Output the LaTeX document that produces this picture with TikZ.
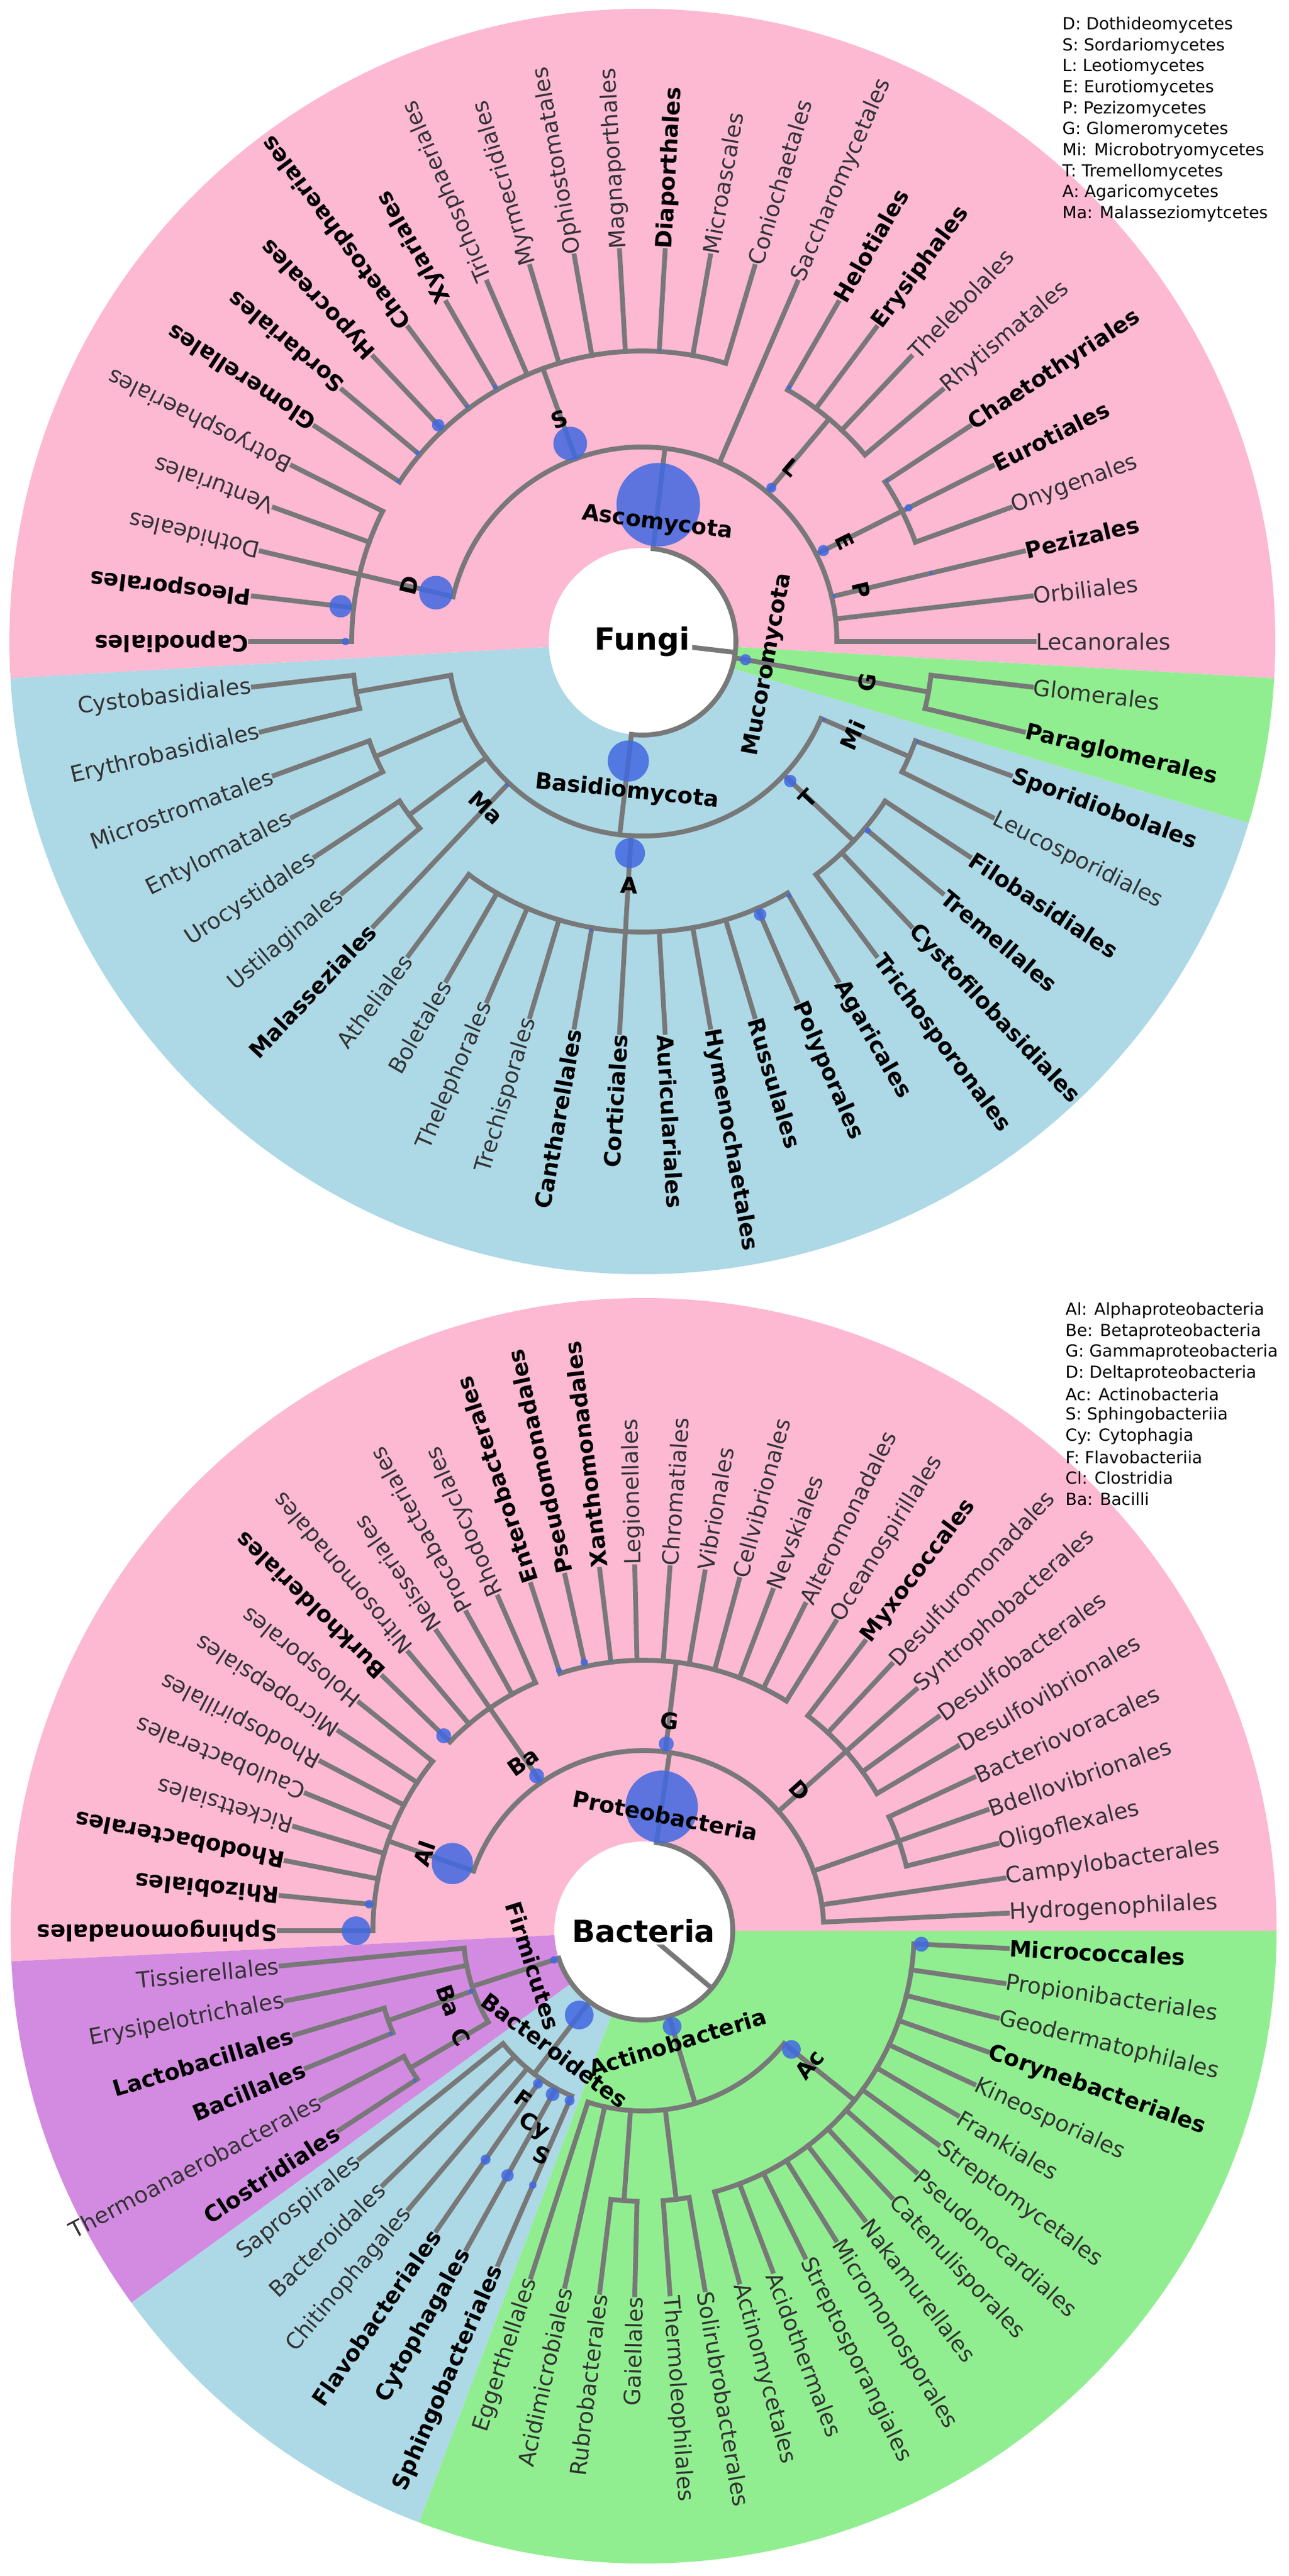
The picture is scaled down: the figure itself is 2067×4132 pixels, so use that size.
\documentclass[tikz,border=0pt]{standalone}
\usepackage{fontspec}
\setmainfont{DejaVu Sans}

\definecolor{bgpink}{HTML}{FDB8D2}
\definecolor{bgblue}{HTML}{ADD8E6}
\definecolor{bggreen}{HTML}{90EE90}
\definecolor{bgpurple}{HTML}{D38BE1}
\definecolor{branchgray}{HTML}{787878}
\definecolor{nodeblue}{HTML}{4169E1}
\definecolor{labelgray}{HTML}{333333}

\newcommand{\leaffont}{\fontsize{10.2}{12}\selectfont}
\newcommand{\rootfont}{\fontsize{13.9}{16}\selectfont}
\newcommand{\legendfont}{\fontsize{7.6}{9}\selectfont}

\tikzset{
  branch/.style={draw=branchgray, line width=2.2pt, line cap=rect},
  leaf/.style={inner sep=1pt, outer sep=0pt},
  cladelbl/.style={font=\leaffont\bfseries, inner sep=0pt},
  nodedot/.style={fill=nodeblue, fill opacity=0.85},
  legendtxt/.style={font=\legendfont, anchor=west, inner sep=0pt},
  rootlbl/.style={font=\rootfont\bfseries, fill=white, inner sep=1pt}
}

\newcommand{\clade}[5]{%
  \draw[branch] (#1:#2) -- (#1:#3);
  \draw[branch] (#4:#3) arc[start angle=#4, end angle=#5, radius=#3];}

\newcommand{\dotat}[3]{\fill[nodedot] (#1:#2) circle[radius=#3];}

\newcommand{\cladename}[4]{%
  \pgfmathsetmacro{\ra}{mod(#1+720,360)}%
  \pgfmathsetmacro{\rr}{(\ra<180) ? (\ra-90) : (\ra+90)}%
  \node[cladelbl, rotate=\rr] (#3) at (#1:#2) {#4};}

\newcommand{\leaflabel}[5]{%
  \pgfmathtruncatemacro{\flip}{and(#1>180,#1<270)}%
  \ifnum#5=1 \def\lw{\bfseries}\def\lc{black}\else\def\lw{\mdseries}\def\lc{labelgray}\fi
  \ifnum\flip=1
    \pgfmathsetmacro{\rt}{#1-180}%
    \node[leaf, font=\leaffont\lw, text=\lc, anchor=east, rotate=\rt] (#3) at (#1:#2) {#4};%
  \else
    \node[leaf, font=\leaffont\lw, text=\lc, anchor=west, rotate=#1] (#3) at (#1:#2) {#4};%
  \fi}

\begin{document}
\begin{tikzpicture}[x=0.01cm, y=0.01cm]
\useasboundingbox (0,0) rectangle (2067,-4132);

\begin{scope}[shift={(1030,-1029)}]
  \fill[bgpink] (0,0) -- (-3.333:1015) arc[start angle=-3.333, end angle=183.333, radius=1015] -- cycle;
  \fill[bggreen] (0,0) -- (-16.667:1015) arc[start angle=-16.667, end angle=-3.333, radius=1015] -- cycle;
  \fill[bgblue] (0,0) -- (183.333:1015) arc[start angle=183.333, end angle=343.333, radius=1015] -- cycle;
  \fill[white] (0,0) circle[radius=150];

  \draw[branch] (83.333:150) arc[start angle=83.333, end angle=-96.667, radius=150];
  \draw[branch] (0,0) -- (-6.667:150);
  \clade{83.333}{150}{312}{166.667}{0}
  \clade{-96.667}{150}{312}{-23.333}{-170}
  \clade{-10}{150}{466}{-6.667}{-13.333}
  \clade{166.667}{312}{466}{180}{153.333}
  \clade{110}{312}{466}{146.667}{73.333}
  \clade{50}{312}{466}{60}{40}
  \clade{26.667}{312}{466}{33.333}{20}
  \clade{-23.333}{312}{466}{-20}{-26.667}
  \clade{-43.333}{312}{466}{-33.333}{-53.333}
  \clade{-93.333}{312}{466}{-60}{-126.667}
  \clade{216.667}{312}{466}{213.333}{220}
  \clade{203.333}{312}{466}{200}{206.667}
  \clade{190}{312}{466}{186.667}{193.333}

  \foreach \k/\nm/\bw/\rp in {1/Capnodiales/1/466, 2/Pleosporales/1/466, 3/Dothideales/0/466,
      4/Venturiales/0/466, 5/Botryosphaeriales/0/466, 6/Glomerellales/1/466, 7/Sordariales/1/466,
      8/Hypocreales/1/466, 9/Chaetosphaeriales/1/466, 10/Xylariales/1/466, 11/Trichosphaeriales/0/466,
      12/Myrmecridiales/0/466, 13/Ophiostomatales/0/466, 14/Magnaporthales/0/466, 15/Diaporthales/1/466,
      16/Microascales/0/466, 17/Coniochaetales/0/466, 18/Saccharomycetales/0/312, 19/Helotiales/1/466,
      20/Erysiphales/1/466, 21/Thelebolales/0/466, 22/Rhytismatales/0/466, 23/Chaetothyriales/1/466,
      24/Eurotiales/1/466, 25/Onygenales/0/466, 26/Pezizales/1/312, 27/Orbiliales/0/312,
      28/Lecanorales/0/312, 29/Glomerales/0/466, 30/Paraglomerales/1/466, 31/Sporidiobolales/1/466,
      32/Leucosporidiales/0/466, 33/Filobasidiales/1/466, 34/Tremellales/1/466, 35/Cystofilobasidiales/1/466,
      36/Trichosporonales/1/466, 37/Agaricales/1/466, 38/Polyporales/1/466, 39/Russulales/1/466,
      40/Hymenochaetales/1/466, 41/Auriculariales/1/466, 42/Corticiales/1/466, 43/Cantharellales/1/466,
      44/Trechisporales/0/466, 45/Thelephorales/0/466, 46/Boletales/0/466, 47/Atheliales/0/466,
      48/Malasseziales/1/312, 49/Ustilaginales/0/466, 50/Urocystidales/0/466, 51/Entylomatales/0/466,
      52/Microstromatales/0/466, 53/Erythrobasidiales/0/466, 54/Cystobasidiales/0/466}{
    \pgfmathsetmacro{\ang}{mod(900-(\k-1)*6.666667,360)}
    \draw[branch] (\ang:\rp) -- (\ang:628);
    \leaflabel{\ang}{628}{f-\nm}{\nm}{\bw}
  }

  \dotat{83.333}{221}{67}
  \dotat{-96.667}{193}{33}
  \dotat{-10}{168}{9}
  \dotat{166.667}{340}{27}
  \dotat{110}{338}{27}
  \dotat{50}{322}{8}
  \dotat{26.667}{325}{9}
  \dotat{26.667}{478}{6}
  \dotat{13.333}{316}{3}
  \dotat{13.333}{476}{3}
  \dotat{-93.333}{340}{24}
  \dotat{-23.333}{317}{3}
  \dotat{-43.333}{326}{10}
  \dotat{226.667}{316}{3}
  \dotat{180}{476}{6}
  \dotat{173.333}{487}{18}
  \dotat{146.667}{468}{3}
  \dotat{140}{471}{4}
  \dotat{133.333}{477}{10}
  \dotat{126.667}{470}{3}
  \dotat{120}{471}{4}
  \dotat{86.667}{468}{2}
  \dotat{60}{471}{4}
  \dotat{33.333}{470}{3}
  \dotat{-20}{470}{3}
  \dotat{-40}{472}{5}
  \dotat{-60}{471}{4}
  \dotat{-66.667}{477}{10}
  \dotat{-100}{470}{3}

  \cladename{82.8}{191}{f-asco}{Ascomycota}
  \cladename{-95.9}{242}{f-basidio}{Basidiomycota}
  \cladename{-10.4}{205}{f-mucoro}{Mucoromycota}
  \cladename{166.5}{384}{f-d}{D}
  \cladename{110.5}{380}{f-s}{S}
  \cladename{49.5}{367}{f-l}{L}
  \cladename{26.3}{362}{f-e}{E}
  \cladename{13.3}{361}{f-p}{P}
  \cladename{-10.4}{366}{f-g}{G}
  \cladename{-24}{369}{f-mi}{Mi}
  \cladename{-43.5}{366}{f-t}{T}
  \cladename{-93}{392}{f-a}{A}
  \cladename{226.7}{366}{f-ma}{Ma}

  \node[rootlbl] (fungi) at (0,0) {Fungi};
\end{scope}

\foreach \entry [count=\n] in {D: Dothideomycetes, S: Sordariomycetes, L: Leotiomycetes,
    E: Eurotiomycetes, P: Pezizomycetes, G: Glomeromycetes, Mi: Microbotryomycetes,
    T: Tremellomycetes, A: Agaricomycetes, Ma: Malasseziomytcetes}
  \node[legendtxt] (leg-f\n) at (1703, {-40-(\n-1)*33.7}) {\entry};

\begin{scope}[shift={(1032,-3097)}]
  \fill[bgpink] (0,0) -- (0:1015) arc[start angle=0, end angle=182.769, radius=1015] -- cycle;
  \fill[bgpurple] (0,0) -- (182.769:1015) arc[start angle=182.769, end angle=216, radius=1015] -- cycle;
  \fill[bgblue] (0,0) -- (216:1015) arc[start angle=216, end angle=249.231, radius=1015] -- cycle;
  \fill[bggreen] (0,0) -- (249.231:1015) arc[start angle=249.231, end angle=360, radius=1015] -- cycle;
  \fill[white] (0,0) circle[radius=143];

  \draw[branch] (81.692:143) arc[start angle=81.692, end angle=-162, radius=143];
  \draw[branch] (0,0) -- (-40.154:143);
  \clade{81.692}{143}{289}{160.615}{2.769}
  \clade{-73.385}{143}{289}{-38.769}{-108}
  \clade{232.615}{143}{289}{218.769}{246.462}
  \clade{198}{143}{289}{185.538}{210.462}
  \clade{160.615}{289}{434}{180}{141.231}
  \clade{124.615}{289}{434}{135.692}{113.538}
  \clade{83.077}{289}{434}{108}{58.154}
  \clade{41.538}{289}{434}{52.615}{30.462}
  \clade{19.385}{289}{434}{24.923}{13.846}
  \clade{-38.769}{289}{434}{-2.769}{-74.769}
  \clade{-83.077}{289}{434}{-80.308}{-85.846}
  \clade{-94.154}{289}{434}{-91.385}{-96.923}
  \clade{199.385}{289}{434}{196.615}{202.154}
  \clade{210.462}{289}{434}{207.692}{213.231}

  \foreach \k/\nm/\bw/\rp in {1/Sphingomonadales/1/434, 2/Rhizobiales/1/434, 3/Rhodobacterales/1/434,
      4/Rickettsiales/0/434, 5/Caulobacterales/0/434, 6/Rhodospirillales/0/434, 7/Micropepsiales/0/434,
      8/Holosporales/0/434, 9/Burkholderiales/1/434, 10/Nitrosomonadales/0/434, 11/Neisseriales/0/434,
      12/Procabacteriales/0/434, 13/Rhodocyclales/0/434, 14/Enterobacterales/1/434, 15/Pseudomonadales/1/434,
      16/Xanthomonadales/1/434, 17/Legionellales/0/434, 18/Chromatiales/0/434, 19/Vibrionales/0/434,
      20/Cellvibrionales/0/434, 21/Nevskiales/0/434, 22/Alteromonadales/0/434, 23/Oceanospirillales/0/434,
      24/Myxococcales/1/434, 25/Desulfuromonadales/0/434, 26/Syntrophobacterales/0/434,
      27/Desulfobacterales/0/434, 28/Desulfovibrionales/0/434, 29/Bacteriovoracales/0/434,
      30/Bdellovibrionales/0/434, 31/Oligoflexales/0/434, 32/Campylobacterales/0/289,
      33/Hydrogenophilales/0/289, 34/Micrococcales/1/434, 35/Propionibacteriales/0/434,
      36/Geodermatophilales/0/434, 37/Corynebacteriales/1/434, 38/Kineosporiales/0/434, 39/Frankiales/0/434,
      40/Streptomycetales/0/434, 41/Pseudonocardiales/0/434, 42/Catenulisporales/0/434,
      43/Nakamurellales/0/434, 44/Micromonosporales/0/434, 45/Streptosporangiales/0/434,
      46/Acidothermales/0/434, 47/Actinomycetales/0/434, 48/Solirubrobacterales/0/434,
      49/Thermoleophilales/0/434, 50/Gaiellales/0/434, 51/Rubrobacterales/0/434, 52/Acidimicrobiales/0/289,
      53/Eggerthellales/0/289, 54/Sphingobacteriales/1/289, 55/Cytophagales/1/289, 56/Flavobacteriales/1/289,
      57/Chitinophagales/0/289, 58/Bacteroidales/0/289, 59/Saprospirales/0/289, 60/Clostridiales/1/434,
      61/Thermoanaerobacterales/0/434, 62/Bacillales/1/434, 63/Lactobacillales/1/434,
      64/Erysipelotrichales/0/289, 65/Tissierellales/0/289}{
    \pgfmathsetmacro{\ang}{mod(900-(\k-1)*5.538462,360)}
    \draw[branch] (\ang:\rp) -- (\ang:584);
    \leaflabel{\ang}{584}{b-\nm}{\nm}{\bw}
  }

  \dotat{81.692}{201}{58}
  \dotat{-73.385}{160}{15}
  \dotat{232.615}{170}{23}
  \dotat{198}{151}{6}
  \dotat{160.615}{325}{33}
  \dotat{124.615}{302}{12}
  \dotat{83.077}{302}{12}
  \dotat{-38.769}{304}{15}
  \dotat{199.385}{293}{4}
  \dotat{235.385}{298}{8}
  \dotat{240.923}{300}{11}
  \dotat{246.462}{297}{8}
  \dotat{180}{461}{23}
  \dotat{174.462}{442}{7}
  \dotat{135.692}{448}{12}
  \dotat{108}{439}{5}
  \dotat{102.462}{441}{6}
  \dotat{96.923}{437}{2}
  \dotat{-2.769}{446}{12}
  \dotat{235.385}{446}{8}
  \dotat{240.923}{449}{10}
  \dotat{246.462}{445}{6}
  \dotat{202.154}{438}{3}
  \dotat{213.231}{438}{3}

  \cladename{79.3}{188}{b-proteo}{Proteobacteria}
  \cladename{-73}{187}{b-actino}{Actinobacteria}
  \cladename{233.3}{239}{b-bactero}{Bacteroidetes}
  \cladename{197.6}{186}{b-firmi}{Firmicutes}
  \cladename{160.6}{373}{b-al}{Al}
  \cladename{125.5}{333}{b-be}{Ba}
  \cladename{83}{339}{b-g}{G}
  \cladename{42}{336}{b-d}{D}
  \cladename{-38.9}{342}{b-ac}{Ac}
  \cladename{199.7}{332}{b-ba}{Ba}
  \cladename{210.1}{339}{b-c}{C}
  \cladename{234.4}{332}{b-f}{F}
  \cladename{240.7}{361}{b-cy}{Cy}
  \cladename{245.6}{395}{b-s}{S}

  \node[rootlbl] (bacteria) at (0,0) {Bacteria};
\end{scope}

\foreach \entry [count=\n] in {Al: Alphaproteobacteria, Be: Betaproteobacteria, G: Gammaproteobacteria,
    D: Deltaproteobacteria, Ac: Actinobacteria, S: Sphingobacteriia, Cy: Cytophagia,
    F: Flavobacteriia, Cl: Clostridia, Ba: Bacilli}
  \node[legendtxt] (leg-b\n) at (1708, {-2102-(\n-1)*33.6}) {\entry};
\end{tikzpicture}
\end{document}
